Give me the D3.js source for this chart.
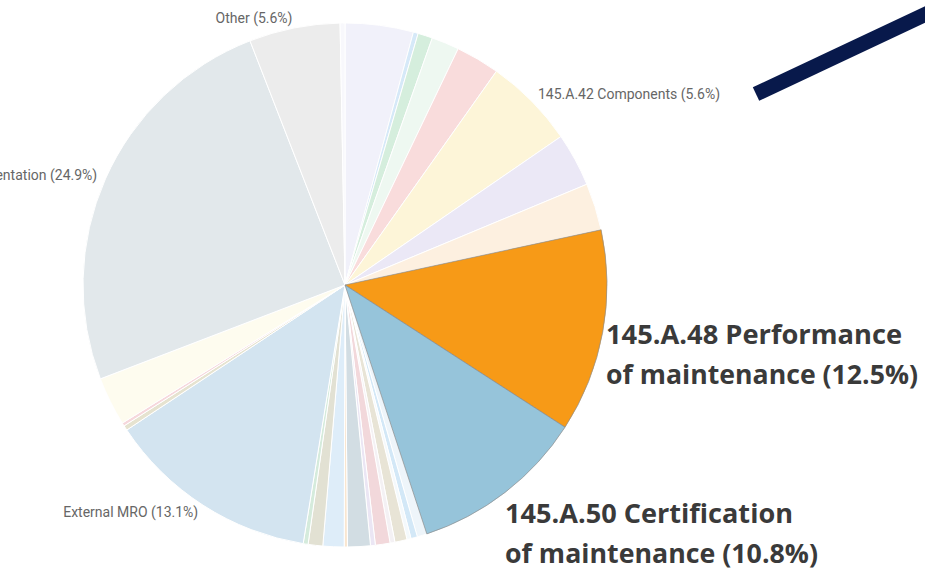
<!DOCTYPE html>
<html>
<head>
<meta charset="utf-8">
<script src="https://cdn.jsdelivr.net/npm/d3@7"></script>
<style>
  body { margin: 0; background: #fff; overflow: hidden; }
  svg { display: block; }
</style>
</head>
<body>
<div id="chart"></div>
<script>
// slices, clockwise from 12 o'clock (percent of findings)
const labels = [
  "Category A", "Category B", "Category C", "Category D", "Category E",
  "145.A.42 Components", "Category F", "Category G",
  "145.A.48 Performance of maintenance", "145.A.50 Certification of maintenance",
  "Category H", "Category I", "Category J", "Category K", "Category L",
  "Category M", "Category N", "Category O", "Category P", "Category Q",
  "Category R", "Category S",
  "External MRO", "Category T", "Category U", "Category V",
  "Documentation", "Other", "Category W"
];
const values = [
  4.2, 0.3, 0.9, 1.7, 2.7,
  5.6, 3.3, 2.9,
  12.5, 10.8,
  0.6, 0.4, 0.25, 0.75, 0.3,
  0.9, 0.3, 1.4, 0.2, 1.3,
  0.9, 0.3,
  13.1, 0.3, 0.2, 3.0,
  24.9, 5.6, 0.3
];
const colors = [
  "#f1f1fa", "#d6e9f8", "#d5eedd", "#eef8f1", "#f9dcdc",
  "#fdf5d8", "#ebe8f6", "#fdf0e0",
  "#f79a17", "#96c4da",
  "#eef5fa", "#d3e8f7", "#f4f9fc", "#e8e4d6", "#f4f1f4",
  "#f2d8db", "#ebe6f4", "#d2dde3", "#f9e6d0", "#deedf9",
  "#e2e1d3", "#d5ebdc",
  "#d3e4f0", "#e6e3d0", "#f6d8dc", "#fefcef",
  "#e2e8eb", "#ececec", "#f8f8fc"
];
// slices that get a small outside label
const labelled = ["145.A.42 Components", "External MRO", "Documentation", "Other"];
// slices called out with the big annotation
const highlighted = ["145.A.48 Performance of maintenance", "145.A.50 Certification of maintenance"];
const callouts = [
  ["145.A.48 Performance", "of maintenance (12.5%)"],
  ["145.A.50 Certification", "of maintenance (10.8%)"]
];

const width = 925, height = 570;
const cx = 345, cy = 285, radius = 262;

const svg = d3.select("#chart").append("svg")
  .attr("width", width)
  .attr("height", height);

const data = labels.map((l, i) => ({label: l, value: values[i], color: colors[i]}));

const pie = d3.pie().sort(null).value(d => d.value);
const arcs = pie(data);

const arc = d3.arc().innerRadius(0).outerRadius(radius);
const labelArc = d3.arc().innerRadius(radius + 9).outerRadius(radius + 9);

const g = svg.append("g").attr("transform", `translate(${cx},${cy})`);

g.selectAll("path.slice")
  .data(arcs)
  .join("path")
  .attr("class", "slice")
  .attr("d", arc)
  .attr("fill", d => d.data.color)
  .attr("stroke", "#ffffff")
  .attr("stroke-width", 1);

// redraw highlighted slices on top with a grey outline
g.selectAll("path.hl")
  .data(arcs.filter(d => highlighted.includes(d.data.label)))
  .join("path")
  .attr("class", "hl")
  .attr("d", arc)
  .attr("fill", d => d.data.color)
  .attr("stroke", "#8c8c8c")
  .attr("stroke-width", 0.7);

const fmt = d3.format(".1f");

g.selectAll("text.lbl")
  .data(arcs.filter(d => labelled.includes(d.data.label)))
  .join("text")
  .attr("class", "lbl")
  .attr("transform", d => `translate(${labelArc.centroid(d)})`)
  .attr("text-anchor", d => (d.startAngle + d.endAngle) / 2 < Math.PI ? "start" : "end")
  .attr("dy", "0.3em")
  .attr("font-family", "Roboto, sans-serif")
  .attr("font-size", 14)
  .attr("fill", "#666")
  .text(d => `${d.data.label} (${fmt(d.data.value)}%)`);

// big annotations
const ann = svg.append("g")
  .attr("font-family", "'Open Sans', sans-serif")
  .attr("font-weight", "bold")
  .attr("font-size", 27)
  .attr("fill", "#3a3a3a");

const annPos = [
  {x: 606, y: 344, w: [296, 312]},
  {x: 505, y: 523, w: [288, 313]}
];

callouts.forEach((lines, i) => {
  lines.forEach((t, j) => {
    ann.append("text")
      .attr("x", annPos[i].x)
      .attr("y", annPos[i].y + j * 40)
      .attr("textLength", annPos[i].w[j])
      .attr("lengthAdjust", "spacingAndGlyphs")
      .text(t);
  });
});

// dark decorative bar top right
svg.append("line")
  .attr("x1", 756).attr("y1", 94)
  .attr("x2", 945).attr("y2", 5)
  .attr("stroke", "#08194b")
  .attr("stroke-width", 15);
</script>
</body>
</html>
